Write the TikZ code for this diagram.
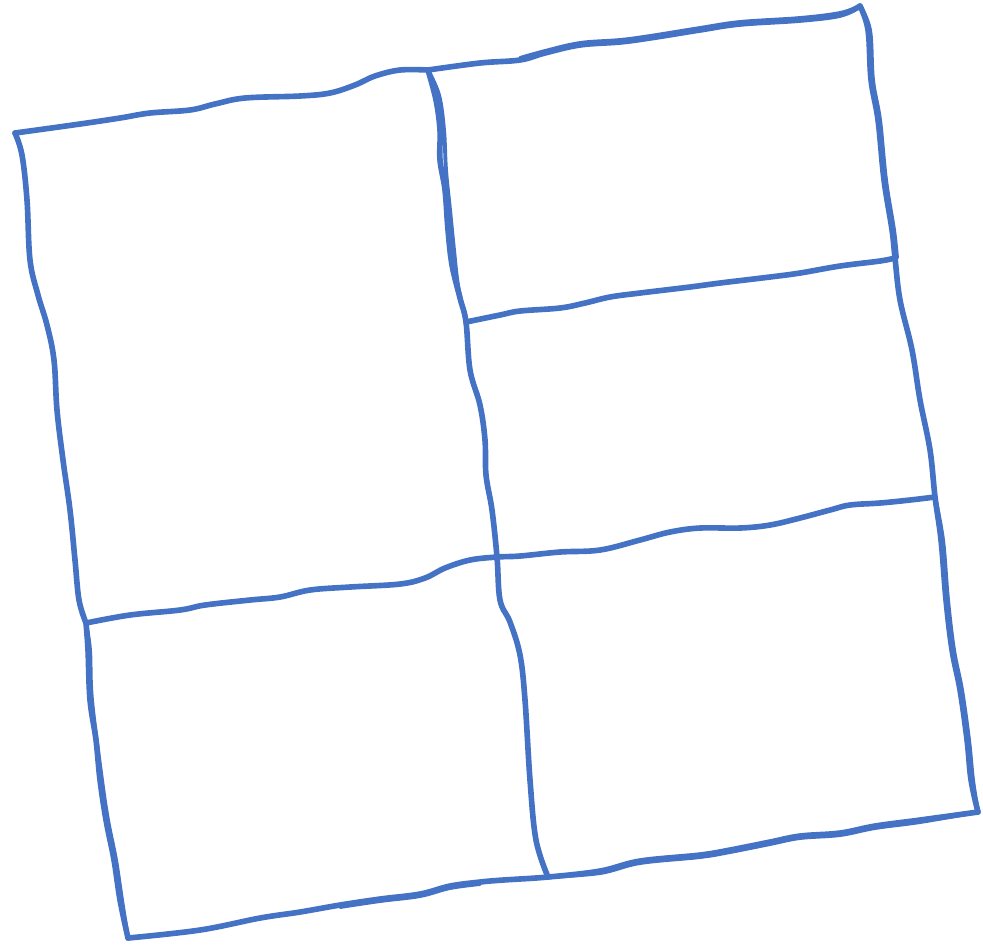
\documentclass[tikz,border=0pt]{standalone}
\usepackage{xcolor}
\usepackage{tikz}
\definecolor{sketchblue}{HTML}{4472C4}
\tikzset{
  sketchline/.style={draw=sketchblue, line width=1.6pt, line cap=round, line join=round},
  retrace/.style={sketchline, line width=1.1pt}
}
\begin{document}
\begin{tikzpicture}[x=0.01cm, y=-0.01cm]
\useasboundingbox (0,0) rectangle (983,944);
% corners and junctions of the grid
\coordinate (tl) at (15,133);
\coordinate (tm) at (428,70);
\coordinate (tr) at (860,6);
\coordinate (ml) at (86,623);
\coordinate (mc) at (497,557);
\coordinate (mr) at (935,497);
\coordinate (ul) at (466,322);
\coordinate (ur) at (895,258);
\coordinate (bl) at (128,938);
\coordinate (bm) at (548,877);
\coordinate (br) at (978,812);
% outer frame
\draw[sketchline] plot[smooth, tension=0.6] coordinates {(tl) (80,124) (120,118) (150,113) (190,110) (215,104) (245,98) (300,96) (330,93) (355,85) (375,76) (400,70) (tm)};
\draw[sketchline] plot[smooth, tension=0.6] coordinates {(tm) (480,63) (520,60) (545,53) (580,45) (620,42) (650,38) (700,30) (740,24) (800,20) (840,15) (tr)};
\draw[sketchline] plot[smooth, tension=0.6] coordinates {(tr) (868,30) (871,80) (878,120) (884,180) (892,230) (ur) (900,300) (912,350) (920,400) (930,450) (mr) (941,540) (946,600) (952,650) (960,690) (967,740) (971,780) (br)};
\draw[sketchline] plot[smooth, tension=0.6] coordinates {(br) (920,820) (875,826) (840,833) (800,836) (770,842) (730,850) (700,855) (640,861) (600,871) (bm) (503,880) (480,882) (450,886) (420,894) (380,899) (340,905) (300,912) (260,918) (200,930) (bl)};
\draw[sketchline] plot[smooth, tension=0.6] coordinates {(bl) (120,900) (114,860) (106,820) (100,780) (96,740) (90,700) (88,650) (ml)};
\draw[sketchline] plot[smooth, tension=0.6] coordinates {(ml) (79,600) (75,560) (70,510) (63,460) (57,410) (54,360) (47,325) (38,295) (30,260) (27,200) (22,155) (tl)};
% second strokes of the sketch
\draw[retrace] plot[smooth, tension=0.6] coordinates {(520,58) (545,51) (580,43) (620,40) (650,36) (700,28) (740,22) (800,18) (840,13) (tr)};
\draw[retrace] plot[smooth, tension=0.6] coordinates {(tr) (870,30) (873,80) (880,120) (886,180) (894,230) (897,258)};
\draw[retrace] plot[smooth, tension=0.6] coordinates {(mr) (943,540) (948,600) (954,650) (962,690) (969,740) (973,780) (br)};
\draw[retrace] plot[smooth, tension=0.6] coordinates {(br) (920,822) (875,828) (840,835) (800,838) (770,844) (730,852) (700,857) (640,863) (600,873) (bm)};
\draw[retrace] plot[smooth, tension=0.6] coordinates {(480,884) (450,888) (420,896) (380,901) (340,907)};
\draw[retrace] plot[smooth, tension=0.6] coordinates {(bl) (122,900) (116,860) (108,820) (102,780) (92,700) (90,650) (ml)};
% inner lines
\draw[sketchline] plot[smooth, tension=0.6] coordinates {(tm) (436,100) (440,130) (440,160) (445,190) (448,230) (452,265) (460,298) (ul) (470,370) (480,405) (485,440) (486,475) (492,510) (mc) (500,600) (510,622) (520,655) (525,700) (530,780) (536,840) (bm)};
\draw[retrace] plot[smooth, tension=0.6] coordinates {(tm) (439,95) (444,130) (446,170) (450,210) (454,250) (458,285) (ul)};
\draw[sketchline] plot[smooth, tension=0.6] coordinates {(ml) (130,615) (180,610) (205,605) (250,600) (280,597) (310,590) (350,587) (400,584) (425,578) (445,568) (470,560) (mc) (520,556) (560,552) (600,550) (640,540) (670,532) (700,528) (740,528) (770,525) (800,518) (830,510) (850,505) (880,503) (910,500) (mr)};
\draw[sketchline] plot[smooth, tension=0.6] coordinates {(ul) (500,315) (520,311) (560,308) (585,303) (610,297) (640,293) (690,287) (720,283) (770,277) (800,273) (840,266) (880,261) (ur)};
\end{tikzpicture}
\end{document}
